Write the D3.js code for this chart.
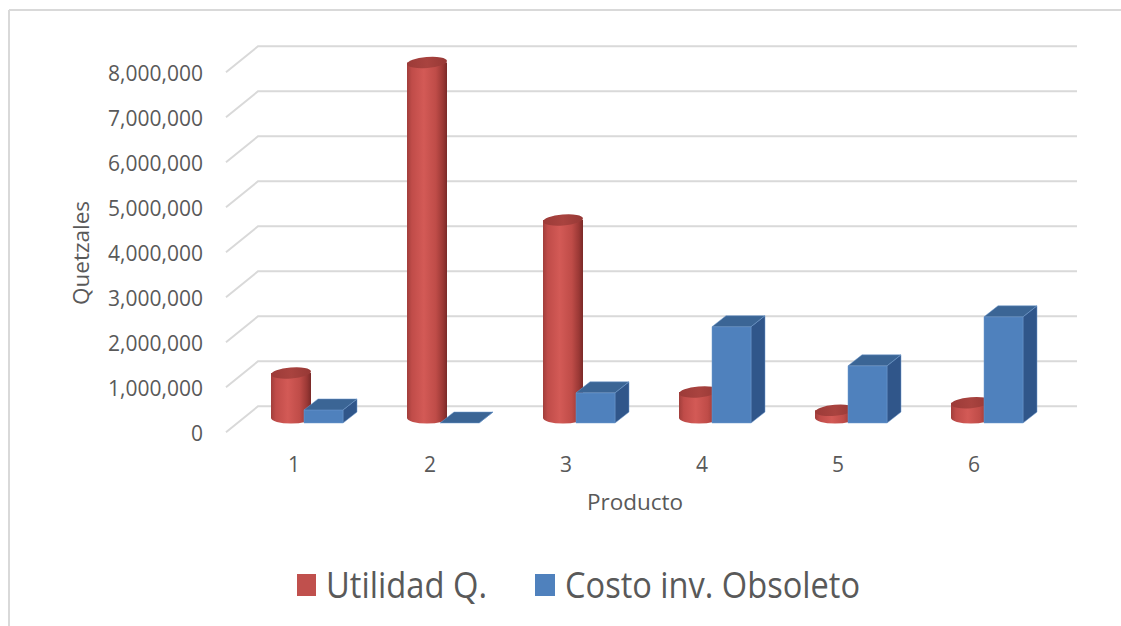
<!DOCTYPE html>
<html>
<head>
<meta charset="utf-8">
<script src="https://cdn.jsdelivr.net/npm/d3@7/dist/d3.min.js"></script>
<style>
  html, body { margin: 0; padding: 0; background: #ffffff; }
  svg { display: block; }
  text { font-family: "Open Sans", sans-serif; fill: #595959; }
</style>
</head>
<body>
<svg id="chart" width="1121" height="626"></svg>
<script>
// ---- data ----
const categories = ["1", "2", "3", "4", "5", "6"];
const utilidad = [1000000, 7900000, 4400000, 580000, 170000, 340000];
const costo = [290000, 0, 670000, 2140000, 1270000, 2360000];
const yTicks = [0, 1000000, 2000000, 3000000, 4000000, 5000000, 6000000, 7000000, 8000000];
const seriesNames = ["Utilidad Q.", "Costo inv. Obsoleto"];
const yTitle = "Quetzales";
const xTitle = "Producto";

// ---- layout ----
const svg = d3.select("#chart");
const W = 1121, H = 626;
const redColor = "#c0504d", blueColor = "#4f81bd";

// frame
svg.append("line").attr("x1", 9).attr("y1", 10).attr("x2", W).attr("y2", 10)
  .attr("stroke", "#d9d9d9").attr("stroke-width", 2);
svg.append("line").attr("x1", 9).attr("y1", 10).attr("x2", 9).attr("y2", H)
  .attr("stroke", "#d9d9d9").attr("stroke-width", 2);

// scales
const yFront = d3.scaleLinear().domain([0, 8000000]).range([432.3, 72.3]); // front edge of floor/grid
const floorDx = 32, floorDy = -26; // front -> back wall
const backRight = 1077;
const x = d3.scaleBand().domain(categories).range([226, 1042]).padding(0);
const barBase = 423;     // front base of boxes
const cylBase = 418;     // centre of cylinder base ellipse
const hScale = d3.scaleLinear().domain([0, 8000000]).range([0, 360]);

// gridlines
const grid = svg.append("g").attr("fill", "none").attr("stroke", "#d9d9d9").attr("stroke-width", 2);
yTicks.forEach(v => {
  const yf = yFront(v);
  grid.append("path")
    .attr("d", `M${226},${yf} L${226 + floorDx},${yf + floorDy} L${backRight},${yf + floorDy}`);
});

// y labels
svg.append("g").selectAll("text").data(yTicks).join("text")
  .attr("x", 203).attr("y", d => yFront(d) + 8.7)
  .attr("text-anchor", "end").attr("font-size", 21)
  .text(d => d3.format(",")(d));

// y title
svg.append("text")
  .attr("transform", "translate(89,253) rotate(-90)")
  .attr("text-anchor", "middle").attr("font-size", 22.5)
  .text(yTitle);

// category labels
svg.append("g").selectAll("text").data(categories).join("text")
  .attr("x", d => x(d) + x.bandwidth() / 2).attr("y", 472)
  .attr("text-anchor", "middle").attr("font-size", 21)
  .text(d => d);

// x title
svg.append("text").attr("x", 635).attr("y", 510)
  .attr("text-anchor", "middle").attr("font-size", 22.5).text(xTitle);

// gradients
const defs = svg.append("defs");
const cg = defs.append("linearGradient").attr("id", "cylBody")
  .attr("x1", 0).attr("x2", 1).attr("y1", 0).attr("y2", 0);
[[0, "#a13e3b"], [0.12, "#c04c49"], [0.42, "#d35a56"], [0.72, "#bf4c48"], [0.9, "#9a3835"], [1, "#7a2a28"]]
  .forEach(([o, c]) => cg.append("stop").attr("offset", o).attr("stop-color", c));
const tg = defs.append("linearGradient").attr("id", "cylTop")
  .attr("x1", 0).attr("x2", 1).attr("y1", 0).attr("y2", 0);
[[0, "#9c3b38"], [0.5, "#a9433f"], [1, "#963835"]]
  .forEach(([o, c]) => tg.append("stop").attr("offset", o).attr("stop-color", c));

// bars
const rx = 20, ry = 5.5, boxW = 39, dDx = 14, dDy = -11;
const bars = svg.append("g");
categories.forEach((c, i) => {
  const cx0 = x(c) + x.bandwidth() / 2;
  // cylinder (Utilidad)
  const cx = cx0 - 23 + rx;
  const h = hScale(utilidad[i]);
  const top = cylBase - h;
  const g = bars.append("g");
  g.append("path")
    .attr("d", `M${cx - rx},${top} L${cx - rx},${cylBase} A${rx},${ry} 0 0 0 ${cx + rx},${cylBase} L${cx + rx},${top} Z`)
    .attr("fill", "url(#cylBody)");
  g.append("ellipse")
    .attr("cx", cx).attr("cy", top).attr("rx", rx).attr("ry", ry)
    .attr("transform", `rotate(-5,${cx},${top})`)
    .attr("fill", "url(#cylTop)");

  // box (Costo)
  const bx = cx0 + 10;
  const bh = hScale(costo[i]);
  const by = barBase - bh;
  const b = bars.append("g").attr("stroke", "#6d98cc").attr("stroke-width", 0.5).attr("stroke-linejoin", "round");
  b.append("path")
    .attr("d", `M${bx + boxW},${by} L${bx + boxW + dDx},${by + dDy} L${bx + boxW + dDx},${barBase + dDy} L${bx + boxW},${barBase} Z`)
    .attr("fill", "#30568a");
  b.append("rect").attr("x", bx).attr("y", by).attr("width", boxW).attr("height", Math.max(bh, 0))
    .attr("fill", blueColor);
  b.append("path")
    .attr("d", `M${bx},${by} L${bx + boxW},${by} L${bx + boxW + dDx},${by + dDy} L${bx + dDx},${by + dDy} Z`)
    .attr("fill", "#3b6595");
});

// legend
const legend = svg.append("g");
legend.append("rect").attr("x", 297).attr("y", 574).attr("width", 19).attr("height", 22).attr("fill", redColor);
legend.append("text").attr("x", 326).attr("y", 598).attr("font-size", 36)
  .attr("textLength", 161).attr("lengthAdjust", "spacingAndGlyphs").text(seriesNames[0]);
legend.append("rect").attr("x", 535).attr("y", 574).attr("width", 20).attr("height", 22).attr("fill", blueColor);
legend.append("text").attr("x", 565).attr("y", 598).attr("font-size", 36)
  .attr("textLength", 295).attr("lengthAdjust", "spacingAndGlyphs").text(seriesNames[1]);
</script>
</body>
</html>
